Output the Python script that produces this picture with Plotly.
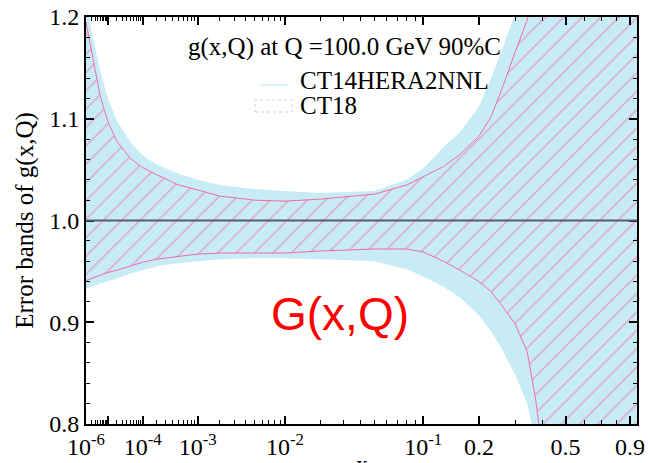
import plotly.graph_objects as go

# ---------------- data ----------------
x_values = [1e-6, 2e-6, 5e-6, 1e-5, 2e-5, 5e-5, 1e-4, 2e-4, 5e-4, 1e-3, 2e-3, 5e-3,
            1e-2, 2e-2, 5e-2, 0.08, 0.1, 0.13, 0.16, 0.2, 0.23, 0.26, 0.3, 0.34,
            0.37, 0.4, 0.5, 0.7, 0.96]

ct14_hi = [1.225, 1.185, 1.147, 1.120, 1.098, 1.077, 1.064, 1.055, 1.046, 1.040, 1.035, 1.031,
           1.029, 1.027, 1.029, 1.040, 1.051, 1.072, 1.087, 1.112, 1.140, 1.168, 1.205, 1.25,
           1.29, 1.33, 1.5, 1.8, 2.1]
ct14_lo = [0.933, 0.935, 0.938, 0.940, 0.943, 0.948, 0.951, 0.955, 0.958, 0.960, 0.962, 0.963,
           0.963, 0.962, 0.960, 0.952, 0.945, 0.935, 0.924, 0.907, 0.891, 0.873, 0.848, 0.820,
           0.785, 0.74, 0.55, 0.25, -0.1]

ct18_hi = [1.195, 1.165, 1.122, 1.097, 1.078, 1.061, 1.052, 1.045, 1.035, 1.030, 1.024, 1.020,
           1.019, 1.021, 1.026, 1.035, 1.043, 1.053, 1.065, 1.083, 1.102, 1.130, 1.166, 1.197,
           1.23, 1.27, 1.40, 1.7, 2.0]
ct18_lo = [0.941, 0.943, 0.946, 0.949, 0.951, 0.955, 0.959, 0.962, 0.965, 0.967, 0.968, 0.968,
           0.968, 0.970, 0.972, 0.972, 0.969, 0.960, 0.951, 0.940, 0.930, 0.916, 0.898, 0.871,
           0.826, 0.77, 0.6, 0.3, 0.0]

x_tick_values = [1e-6, 1e-5, 1e-4, 1e-3, 1e-2, 1e-1, 0.2, 0.5, 0.9]
x_tick_labels = ["10<sup>-6</sup>", "", "10<sup>-4</sup>", "10<sup>-3</sup>", "10<sup>-2</sup>",
                 "10<sup>-1</sup>", "0.2", "0.5", "0.9"]
x_minor_values = ([m * 1e-6 for m in range(2, 10)] + [m * 1e-5 for m in range(2, 10)] +
                  [m * 1e-4 for m in range(2, 10)] + [m * 1e-3 for m in range(2, 10)] +
                  [m * 1e-2 for m in range(2, 10)] + [0.3, 0.4, 0.6, 0.7, 0.8])
y_tick_values = [0.8, 0.9, 1.0, 1.1, 1.2]
y_tick_labels = ["0.8", "0.9", "1.0", "1.1", "1.2"]

title_text = "g(x,Q) at Q =100.0 GeV 90%C"
legend_labels = ["CT14HERA2NNL", "CT18"]
overlay_text = "G(x,Q)"

# ---------------- x scale: x^0.2 (CTEQ style) ----------------
POW = 0.2


def xs(v):
    return v ** POW


X = [xs(v) for v in x_values]

BLUE = "#c8ecf6"
PINK = "#ee6c9e"
SERIF = "Liberation Serif, Times New Roman, serif"

fig = go.Figure()

fig.add_trace(go.Scatter(x=X, y=ct14_lo, mode="lines", line=dict(width=0, color=BLUE),
                         showlegend=False, hoverinfo="skip"))
fig.add_trace(go.Scatter(x=X, y=ct14_hi, mode="lines", line=dict(width=0, color=BLUE),
                         fill="tonexty", fillcolor=BLUE, showlegend=False, hoverinfo="skip"))
fig.add_trace(go.Scatter(x=X, y=ct18_lo, mode="lines", line=dict(width=1, color=PINK),
                         showlegend=False, hoverinfo="skip"))
fig.add_trace(go.Scatter(x=X, y=ct18_hi, mode="lines", line=dict(width=1, color=PINK),
                         fill="tonexty", fillcolor="rgba(0,0,0,0)",
                         fillpattern=dict(shape="/", fgcolor=PINK, bgcolor="rgba(0,0,0,0)",
                                          size=13, solidity=0.12, fillmode="overlay"),
                         showlegend=False, hoverinfo="skip"))

fig.add_hline(y=1.0, line=dict(color="#5d5a78", width=2))

axis_common = dict(showline=True, linecolor="black", linewidth=2, mirror="allticks",
                   ticks="inside", tickcolor="black", showgrid=False, zeroline=False,
                   tickfont=dict(family=SERIF, size=24, color="black"))

fig.update_xaxes(range=[xs(1e-6), xs(0.955)], tickmode="array",
                 tickvals=[xs(v) for v in x_tick_values], ticktext=x_tick_labels,
                 ticklen=8, tickwidth=1.5,
                 minor=dict(tickmode="array", tickvals=[xs(v) for v in x_minor_values],
                            ticks="inside", ticklen=4, tickwidth=1, tickcolor="black"),
                 **axis_common)
fig.update_yaxes(range=[0.8, 1.2], tickmode="array", tickvals=y_tick_values,
                 ticktext=y_tick_labels, ticklen=8, tickwidth=1.5,
                 minor=dict(dtick=0.02, tick0=0.8, ticks="inside", ticklen=4, tickwidth=1,
                            tickcolor="black"),
                 title=dict(text="Error bands of g(x,Q)", font=dict(family=SERIF, size=25,
                                                                    color="black"),
                            standoff=8),
                 **axis_common)

L, R, T, B = 86, 11, 17, 39
W, H = 648, 463
pw, ph = W - L - R, H - T - B


def px(xp):
    return (xp - L) / pw


def py(yp):
    return (H - B - yp) / ph


annots = [
    dict(text=title_text, x=px(186), y=py(47), xanchor="left", yanchor="middle",
         font=dict(family=SERIF, size=25, color="black")),
    dict(text=legend_labels[0], x=px(298), y=py(80), xanchor="left", yanchor="middle",
         font=dict(family=SERIF, size=25, color="black")),
    dict(text=legend_labels[1], x=px(298), y=py(106), xanchor="left", yanchor="middle",
         font=dict(family=SERIF, size=25, color="black")),
    dict(text=overlay_text, x=px(340), y=py(314), xanchor="center", yanchor="middle",
         font=dict(family="Liberation Sans, Arial, sans-serif", size=46, color="#ff0000")),
    dict(text="x", x=0.5, y=py(449), xanchor="center", yanchor="top",
         font=dict(family=SERIF, size=24, color="black")),
]
for a in annots:
    a.update(xref="paper", yref="paper", showarrow=False)
fig.update_layout(annotations=annots)

fig.add_shape(type="line", xref="paper", yref="paper", x0=px(260), x1=px(288),
              y0=py(85), y1=py(85), line=dict(color="#d8f2f7", width=2))
fig.add_shape(type="rect", xref="paper", yref="paper", x0=px(255), x1=px(292),
              y0=py(112), y1=py(100), line=dict(color="#e6cbd3", width=1, dash="dot"))

fig.update_layout(width=W, height=H, margin=dict(l=L, r=R, t=T, b=B, autoexpand=False),
                  plot_bgcolor="white", paper_bgcolor="white", showlegend=False)

fig.write_html("out.html", config={"displayModeBar": False},
               post_script="document.body.style.margin='0';")
